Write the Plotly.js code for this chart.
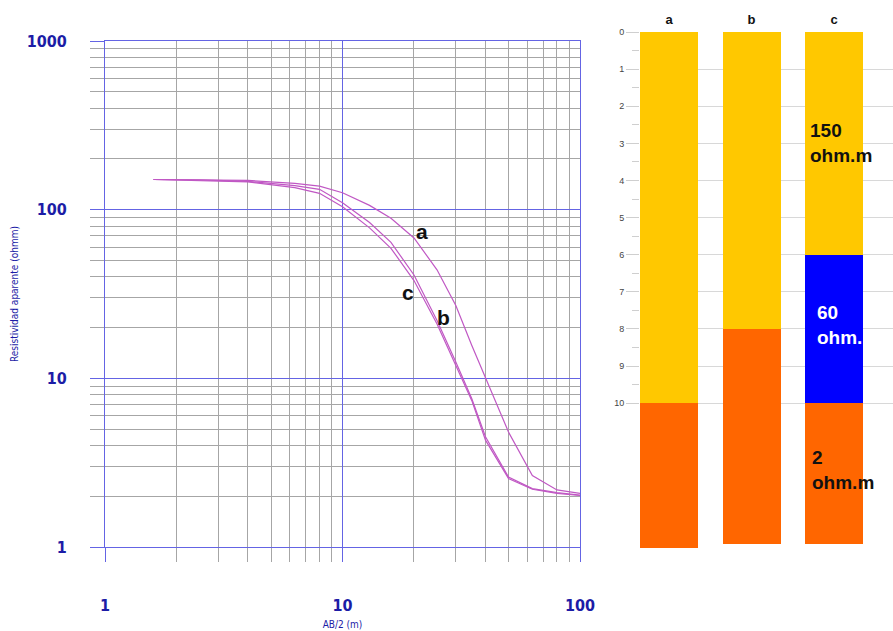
<!DOCTYPE html>
<html>
<head>
<meta charset="utf-8">
<script src="https://cdn.plot.ly/plotly-3.0.1.min.js"></script>
<style>html,body{margin:0;padding:0;background:#fff;}#chart{width:893px;height:631px;}</style>
</head>
<body>
<div id="chart"></div>
<script>
// ---- Sounding curves (AB/2 in m, apparent resistivity in ohm.m) ----
const abHalf = [1.6, 2.5, 4, 6.3, 8, 10, 13, 16, 20, 25, 30, 35, 40, 50, 63, 80, 100];
const rhoA = [151, 150, 149, 143, 138, 126, 106, 89, 68, 44, 27, 15.7, 10, 4.8, 2.65, 2.18, 2.08];
const rhoB = [151, 150, 147, 139, 132, 110, 84, 64, 41, 22, 12.5, 7.6, 4.5, 2.6, 2.22, 2.1, 2.03];
const rhoC = [151, 149, 146, 135, 125, 104, 78, 59, 38, 21, 12, 7.4, 4.3, 2.55, 2.2, 2.08, 2.02];
const curveNames = ['a', 'b', 'c'];
const xTickVals = [1, 10, 100];
const xTickText = ['1', '10', '100'];
const yTickVals = [1, 10, 100, 1000];
const yTickText = ['1', '10', '100', '1000'];

// ---- Layer models (depth in m) ----
const wells = ['a', 'b', 'c'];
const layer150Top = [0, 0, 0];
const layer150Base = [10, 8, 6];
const layer60Top = [null, null, 6];
const layer60Base = [null, null, 10];
const layer2Top = [10, 8, 10];
const layer2Base = [13.9, 13.8, 13.8];
const depthTicks = [0, 1, 2, 3, 4, 5, 6, 7, 8, 9, 10];
const layerLabels = ['150<br>ohm.m', '60<br>ohm.', '2<br>ohm.m'];

const minorLog = [];
[1, 10, 100].forEach(d => { for (let k = 2; k <= 9; k++) minorLog.push(k * d); });
const minorDepth = depthTicks.slice(0, -1).map(v => v + 0.5);

const narrow = "'Liberation Sans Narrow', 'DejaVu Sans Condensed', 'Arial Narrow', sans-serif";
const blue = '#6464e4';
const labelBlue = '#1c1ca6';
const grey = '#a6a6a6';
const curveColor = '#c058c4';

function thick(top, base) { return top.map((t, i) => (t === null ? null : base[i] - t)); }

const traces = [
  { x: abHalf, y: rhoA, name: 'a', type: 'scatter', mode: 'lines', line: { color: curveColor, width: 1.2 }, xaxis: 'x', yaxis: 'y' },
  { x: abHalf, y: rhoB, name: 'b', type: 'scatter', mode: 'lines', line: { color: curveColor, width: 1.2 }, xaxis: 'x', yaxis: 'y' },
  { x: abHalf, y: rhoC, name: 'c', type: 'scatter', mode: 'lines', line: { color: curveColor, width: 1.2 }, xaxis: 'x', yaxis: 'y' },
  { x: wells, y: thick(layer150Top, layer150Base), base: layer150Top, type: 'bar', name: '150 ohm.m', marker: { color: '#ffc800' }, width: 0.703, xaxis: 'x2', yaxis: 'y2' },
  { x: wells, y: thick(layer60Top, layer60Base), base: layer60Top, type: 'bar', name: '60 ohm.m', marker: { color: '#0000ff' }, width: 0.703, xaxis: 'x2', yaxis: 'y2' },
  { x: wells, y: thick(layer2Top, layer2Base), base: layer2Top, type: 'bar', name: '2 ohm.m', marker: { color: '#ff6600' }, width: 0.703, xaxis: 'x2', yaxis: 'y2' }
];

const curveLabelPos = { a: [21.6, 74.7], c: [18.9, 32.1], b: [26.5, 22.8] };
const annotations = curveNames.map(n => ({
  x: Math.log10(curveLabelPos[n][0]), y: Math.log10(curveLabelPos[n][1]), xref: 'x', yref: 'y',
  text: n, showarrow: false, font: { family: 'Liberation Sans, Arial, sans-serif', size: 21, weight: 'bold', color: '#111' }
}));
const layerMid = [3.0, 7.9, 11.8];
const layerColors = ['#111', '#ffffff', '#111'];
const layerShift = [-26, -19, -24];
layerLabels.forEach((t, i) => annotations.push({
  x: 2, y: layerMid[i], xref: 'x2', yref: 'y2', xanchor: 'left', yanchor: 'middle', xshift: layerShift[i], align: 'left',
  text: t, showarrow: false, font: { family: 'Liberation Sans, Arial, sans-serif', size: 19, weight: 'bold', color: layerColors[i] }
}));

const layout = {
  width: 893, height: 631,
  margin: { l: 0, r: 0, t: 0, b: 0 },
  paper_bgcolor: '#fff', plot_bgcolor: 'rgba(0,0,0,0)',
  showlegend: false,
  bargap: 0,
  barmode: 'overlay',
  xaxis: {
    type: 'log', range: [0, 2], domain: [105 / 893, 580 / 893], anchor: 'y',
    tickvals: xTickVals, ticktext: xTickText,
    showgrid: true, gridcolor: blue, gridwidth: 1,
    showline: true, mirror: true, linecolor: blue, linewidth: 1,
    ticks: 'outside', ticklen: 14, tickcolor: blue, ticklabelstandoff: 30,
    tickfont: { family: narrow, size: 16, weight: 'bold', color: labelBlue },
    minor: { tickvals: minorLog, showgrid: true, gridcolor: grey, gridwidth: 1, ticks: 'outside', ticklen: 14, tickcolor: grey },
    title: { text: 'AB/2 (m)', font: { family: narrow, size: 10, color: labelBlue }, standoff: 6 },
    zeroline: false, fixedrange: true
  },
  yaxis: {
    type: 'log', range: [0, 3], domain: [(631 - 547) / 631, (631 - 41) / 631], anchor: 'x',
    tickvals: yTickVals, ticktext: yTickText,
    showgrid: true, gridcolor: blue, gridwidth: 1,
    showline: true, mirror: true, linecolor: blue, linewidth: 1,
    ticks: 'outside', ticklen: 14, tickcolor: blue, ticklabelstandoff: 20,
    tickfont: { family: narrow, size: 16, weight: 'bold', color: labelBlue },
    minor: { tickvals: minorLog, showgrid: true, gridcolor: grey, gridwidth: 1, ticks: 'outside', ticklen: 14, tickcolor: grey },
    title: { text: 'Resistividad aparente (ohmm)', font: { family: narrow, size: 10, color: labelBlue }, standoff: 6 },
    zeroline: false, fixedrange: true
  },
  xaxis2: {
    type: 'category', range: [-0.352, 2.715], domain: [640 / 893, 1], anchor: 'y2', side: 'top',
    showgrid: false, showline: false, ticks: '', zeroline: false, ticklabelstandoff: 4,
    tickfont: { family: 'Liberation Sans, Arial, sans-serif', size: 13, weight: 'bold', color: '#111' }
  },
  yaxis2: {
    range: [13.9, 0], domain: [(631 - 548) / 631, (631 - 32) / 631], anchor: 'x2',
    tickvals: depthTicks, showgrid: true, gridcolor: '#d8d8d8', gridwidth: 1,
    showline: false, zeroline: false,
    ticks: 'outside', ticklen: 13, tickcolor: '#cfcfcf',
    tickfont: { family: 'Liberation Sans, Arial, sans-serif', size: 9, color: '#444' },
    minor: { tickvals: minorDepth, ticks: 'outside', ticklen: 7, tickcolor: '#cfcfcf', showgrid: false }
  },
  annotations: annotations
};

Plotly.newPlot('chart', traces, layout, { displayModeBar: false, staticPlot: true });
</script>
</body>
</html>
